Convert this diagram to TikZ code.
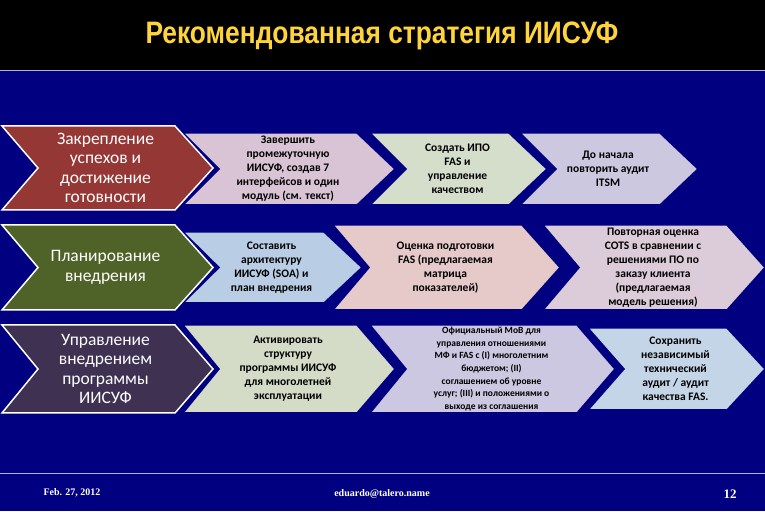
\documentclass[tikz,border=0pt]{standalone}
\usepackage{fontspec}
\setmainfont{Carlito}
\newfontfamily\titlefont{Liberation Sans}
\newfontfamily\footfont{Liberation Serif}
\definecolor{navy}{HTML}{000080}
\definecolor{ttl}{HTML}{FFD43B}
\definecolor{cA}{HTML}{953735}
\definecolor{cB}{HTML}{4F6228}
\definecolor{cC}{HTML}{3F3151}
\definecolor{p1}{HTML}{D9C4D6}
\definecolor{p2}{HTML}{D5DDCB}
\definecolor{p3}{HTML}{CCC8E0}
\definecolor{q1}{HTML}{B9CDE5}
\definecolor{q2}{HTML}{E6C9C9}
\definecolor{q3}{HTML}{DCCBD8}
\definecolor{r1}{HTML}{D4DCC8}
\definecolor{r2}{HTML}{CCC8E2}
\definecolor{r3}{HTML}{C5D5E8}
\newcommand{\chev}[8]{% name,x1,tip,top,bot,fill,style,text
  \filldraw[fill=#6,#7] (#2pt,{(511-#4)*1pt}) -- ({(#3-38)*1pt},{(511-#4)*1pt}) -- (#3pt,{(511-(#4+#5)/2)*1pt})
   -- ({(#3-38)*1pt},{(511-#5)*1pt}) -- (#2pt,{(511-#5)*1pt}) -- ({(#2+36)*1pt},{(511-(#4+#5)/2)*1pt}) -- cycle;
  \node[#7txt] (#1) at ({(#2+#3)/2*1pt},{(511-(#4+#5)/2)*1pt}) {#8};}
\tikzset{big/.style={draw=white,line width=1.5pt},
 bigtxt/.style={text=white,font=\fontsize{17.5}{19.5}\selectfont,align=center,xshift=-2pt},
 sm/.style={draw=navy,line width=1.5pt},
 smtxt/.style={text=black,font=\bfseries\fontsize{11.5}{14}\selectfont,align=center,xshift=-1pt},
 tn/.style={draw=navy,line width=1.5pt},
 tntxt/.style={text=black,font=\bfseries\fontsize{9.5}{12.6}\selectfont,align=center,xshift=-1pt}}
\begin{document}
\begin{tikzpicture}[x=1pt,y=1pt]
\useasboundingbox (0,0) rectangle (765,511);
\fill[navy] (0,0) rectangle (765,511);
\fill[black] (0,441) rectangle (765,511);
\draw[white!70!navy,line width=1pt] (0,440) -- (765,440);
\draw[white!70!navy,line width=1pt] (0,37) -- (765,37);
\node[text=ttl,font=\titlefont\bfseries\fontsize{31}{33}\selectfont,xscale=0.85] (title) at (382,475) {Рекомендованная стратегия ИИСУФ};
% row 1
\chev{c4}{520}{698}{133}{205}{p3}{sm}{До начала\\повторить аудит\\ITSM}
\chev{c3}{370}{547}{133}{205}{p2}{sm}{Создать ИПО\\FAS и\\управление\\качеством}
\chev{c2}{183}{395}{133}{205}{p1}{sm}{Завершить\\промежуточную\\ИИСУФ, создав 7\\интерфейсов и один\\модуль (см. текст)}
\chev{c1}{2}{213}{126}{210}{cA}{big}{Закрепление\\успехов и\\достижение\\готовности}
% row 2
\chev{d4}{543}{765}{225}{310}{q3}{sm}{Повторная оценка\\COTS в сравнении с\\решениями ПО по\\заказу клиента\\(предлагаемая\\модель решения)}
\chev{d3}{333}{560}{225}{310}{q2}{sm}{Оценка подготовки\\FAS (предлагаемая\\матрица\\показателей)}
\chev{d2}{183}{362}{232}{303}{q1}{sm}{Составить\\архитектуру\\ИИСУФ (SOA) и\\план внедрения}
\chev{d1}{2}{213}{225}{310}{cB}{big}{Планирование\\внедрения}
% row 3
\chev{e4}{588}{765}{328}{410}{r3}{sm}{Сохранить\\независимый\\технический\\аудит / аудит\\качества FAS.}
\chev{e3}{370}{615}{325}{413}{r2}{tn}{Официальный МоВ для\\управления отношениями\\МФ и FAS с (I) многолетним\\бюджетом; (II)\\соглашением об уровне\\услуг; (III) и положениями о\\выходе из соглашения}
\chev{e2}{183}{395}{325}{413}{r1}{sm}{Активировать\\структуру\\программы ИИСУФ\\для многолетней\\эксплуатации}
\chev{e1}{2}{213}{325}{413}{cC}{big}{Управление\\внедрением\\программы\\ИИСУФ}
% footer
\node[text=white,font=\footfont\bfseries\fontsize{10}{11}\selectfont] (date) at (72,18) {Feb. 27, 2012};
\node[text=white,font=\footfont\bfseries\fontsize{10}{11}\selectfont] (mail) at (382,17) {eduardo@talero.name};
\node[text=white,font=\footfont\bfseries\fontsize{13}{14}\selectfont] (page) at (730,17) {12};
\end{tikzpicture}
\end{document}
